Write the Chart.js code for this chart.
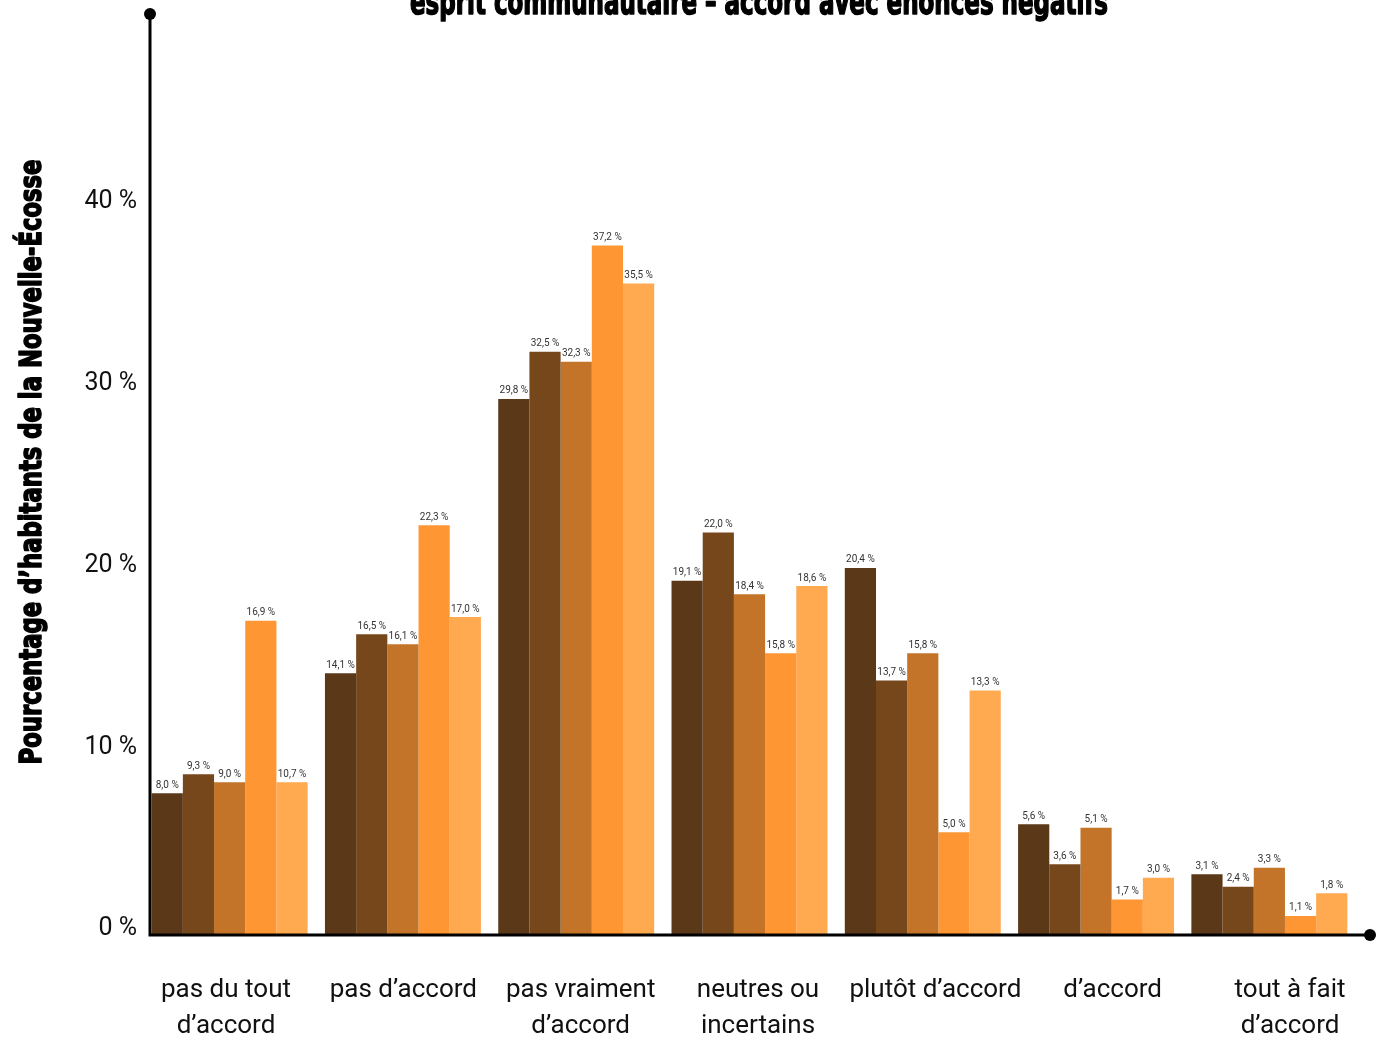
<!DOCTYPE html>
<html lang="fr">
<head>
<meta charset="utf-8">
<title>Esprit communautaire – accord avec énoncés négatifs</title>
<script src="https://cdn.jsdelivr.net/npm/chart.js@4/dist/chart.umd.min.js"></script>
<style>
  html, body { margin: 0; padding: 0; background: #fff; }
  #chart { display: block; }
</style>
</head>
<body>
<canvas id="chart" width="1379" height="1040"></canvas>
<script>
// categories (answers)
const categories = [
    ["pas du tout", "d\u2019accord"],
    ["pas d\u2019accord"],
    ["pas vraiment", "d\u2019accord"],
    ["neutres ou", "incertains"],
    ["plut\u00f4t d\u2019accord"],
    ["d\u2019accord"],
    ["tout \u00e0 fait", "d\u2019accord"]
];

// bar heights as drawn in the picture (%)
const serie1 = [7.8, 14.4, 29.5, 19.5, 20.2, 6.1, 3.35];
const serie2 = [8.85, 16.55, 32.1, 22.15, 14.0, 3.9, 2.65];
const serie3 = [8.4, 16.0, 31.55, 18.75, 15.5, 5.9, 3.7];
const serie4 = [17.3, 22.55, 37.95, 15.5, 5.65, 1.95, 1.05];
const serie5 = [8.4, 17.5, 35.85, 19.2, 13.45, 3.15, 2.3];

// values printed above the bars (%)
const printed1 = [8.0, 14.1, 29.8, 19.1, 20.4, 5.6, 3.1];
const printed2 = [9.3, 16.5, 32.5, 22.0, 13.7, 3.6, 2.4];
const printed3 = [9.0, 16.1, 32.3, 18.4, 15.8, 5.1, 3.3];
const printed4 = [16.9, 22.3, 37.2, 15.8, 5.0, 1.7, 1.1];
const printed5 = [10.7, 17.0, 35.5, 18.6, 13.3, 3.0, 1.8];

const yTicks = [0, 10, 20, 30, 40];
const colors = ["#5b3818", "#76471b", "#c37428", "#fe9633", "#ffa950"];

const seriesValues = [serie1, serie2, serie3, serie4, serie5];
const seriesPrinted = [printed1, printed2, printed3, printed4, printed5];

function fmt(v) {
    return v.toFixed(1).replace('.', ',') + ' %';
}

const barLabels = {
    id: 'barLabels',
    afterDatasetsDraw(chart) {
        const ctx = chart.ctx;
        ctx.save();
        ctx.font = '10px Roboto';
        ctx.fillStyle = '#333333';
        ctx.textAlign = 'center';
        ctx.textBaseline = 'bottom';
        chart.data.datasets.forEach((ds, i) => {
            const meta = chart.getDatasetMeta(i);
            meta.data.forEach((bar, j) => {
                ctx.fillText(fmt(seriesPrinted[i][j]), bar.x, bar.y - 3);
            });
        });
        ctx.restore();
    }
};

// heavy condensed text: scaled to the wanted length, slightly stroked
function condensedText(ctx, text, size, length) {
    ctx.font = 'bold ' + size + 'px "DejaVu Sans Condensed", "DejaVu Sans"';
    const w = ctx.measureText(text).width;
    ctx.scale(length / w, 1);
    ctx.lineWidth = 1.6;
    ctx.lineJoin = 'round';
    ctx.strokeText(text, 0, 0);
    ctx.fillText(text, 0, 0);
}

// axis lines with round end markers, plus the titles
const decorations = {
    id: 'decorations',
    afterDraw(chart) {
        const ctx = chart.ctx;
        const y0 = chart.scales.y.getPixelForValue(0);
        ctx.save();
        ctx.strokeStyle = '#000';
        ctx.fillStyle = '#000';
        ctx.lineWidth = 3;
        ctx.beginPath();
        ctx.moveTo(150, 14);
        ctx.lineTo(150, y0);
        ctx.lineTo(1370, y0);
        ctx.stroke();
        ctx.beginPath();
        ctx.arc(150, 14, 6, 0, Math.PI * 2);
        ctx.fill();
        ctx.beginPath();
        ctx.arc(1370, y0, 6, 0, Math.PI * 2);
        ctx.fill();

        ctx.textAlign = 'center';
        ctx.textBaseline = 'alphabetic';

        // chart title (cut at the top edge like the reference)
        ctx.save();
        ctx.translate(759, 14);
        condensedText(ctx, 'esprit communautaire \u2013 accord avec \u00e9nonc\u00e9s n\u00e9gatifs', 36, 698);
        ctx.restore();

        // y axis title
        ctx.save();
        ctx.translate(41, 462);
        ctx.rotate(-Math.PI / 2);
        condensedText(ctx, 'Pourcentage d\u2019habitants de la Nouvelle-\u00c9cosse', 31, 605);
        ctx.restore();

        ctx.restore();
    }
};

const datasets = seriesValues.map((vals, i) => ({
    label: 'S\u00e9rie ' + (i + 1),
    data: vals,
    backgroundColor: colors[i],
    borderWidth: 0,
    categoryPercentage: 0.9,
    barPercentage: 1.0
}));

new Chart(document.getElementById('chart'), {
    type: 'bar',
    data: {
        labels: categories.map(c => c.join(' ')),
        datasets: datasets
    },
    options: {
        responsive: false,
        animation: false,
        layout: { padding: { top: 14, right: 23, left: 0, bottom: 0 } },
        plugins: {
            legend: { display: false },
            tooltip: { enabled: false },
            title: { display: false }
        },
        scales: {
            x: {
                type: 'category',
                display: false
            },
            // label axis: the category names sit on a slightly wider spacing than the bar groups
            xl: {
                type: 'linear',
                position: 'bottom',
                offset: false,
                min: -0.468,
                max: 6.372,
                afterFit(scale) { scale.height = 105; },
                grid: { display: false, drawTicks: false, offset: false },
                border: { display: false },
                ticks: {
                    stepSize: 1,
                    includeBounds: false,
                    autoSkip: false,
                    maxRotation: 0,
                    padding: 1,
                    color: '#111111',
                    font: { family: 'Roboto', size: 26, lineHeight: '36px' },
                    callback: v => Number.isInteger(v) && categories[v] ? [''].concat(categories[v]) : ''
                }
            },
            y: {
                min: 0,
                max: 50.3,
                afterFit(scale) { scale.width = 143; },
                grid: { display: false, drawTicks: false },
                border: { display: false },
                ticks: {
                    stepSize: 10,
                    includeBounds: false,
                    padding: 6,
                    labelOffset: -6,
                    color: '#111111',
                    font: { family: 'Roboto', size: 25 },
                    callback: v => yTicks.includes(v) ? v + ' %' : ''
                }
            }
        }
    },
    plugins: [barLabels, decorations]
});
</script>
</body>
</html>
